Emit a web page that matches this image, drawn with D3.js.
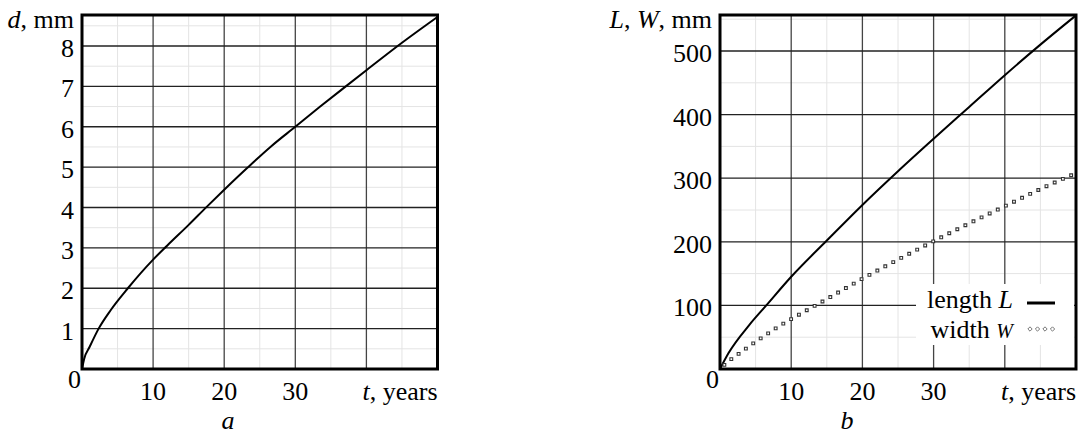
<!DOCTYPE html>
<html>
<head>
<meta charset="utf-8">
<script src="https://cdn.jsdelivr.net/npm/d3@7"></script>
<style>
  html, body { margin: 0; padding: 0; background: #fff; }
  svg { display: block; }
  text { font-family: "Liberation Serif", "Times New Roman", serif; font-size: 26px; fill: #000; }
</style>
</head>
<body>
<svg id="chart" width="1078" height="436"></svg>
<script>
// ---- data ----
// Panel a: diameter d (mm) vs time t (years)
const dTime  = [0, 0.3, 1.08, 2.34, 4, 6.45, 10, 12, 15, 17.5, 20, 23.3, 26.5, 30, 33.5, 37.1, 40, 45, 50];
const dValue = [0, 0.25, 0.55, 1.0, 1.45, 2.0, 2.71, 3.06, 3.57, 4.01, 4.44, 4.99, 5.5, 6.0, 6.5, 7.0, 7.4, 8.08, 8.72];

// Panel b: length L and width W (mm) vs time t (years)
const lTime  = [0, 1.2, 4.1, 6.5, 10, 15, 20, 25, 30, 35, 40, 45, 50];
const lValue = [0, 25, 69, 100, 145, 202, 258, 311, 362, 412, 462, 510, 556];
const wTime  = [0, 1.07, 2.15, 4.25, 6.35, 8.4, 10.55, 15, 20, 25, 30, 35, 40, 45, 50];
const wValue = [0, 11, 20, 37, 53, 68, 82, 110, 142, 172, 201, 229, 256, 283, 308];

const xTicksA = [10, 20, 30];
const yTicksA = [1, 2, 3, 4, 5, 6, 7, 8];
const xTicksB = [10, 20, 30];
const yTicksB = [100, 200, 300, 400, 500];

const svg = d3.select("#chart");

function panel(opts) {
  const g = svg.append("g");
  const x = d3.scaleLinear().domain([0, 50]).range([opts.left, opts.right]);
  const y = d3.scaleLinear().domain([0, opts.yRef]).range([opts.bottom, opts.yRefPx]);
  const yMax = y.invert(opts.top);

  // minor grid
  const minorX = d3.range(5, 50, 10);
  const minorY = d3.range(opts.minorStep, yMax, opts.majorStep);
  g.append("g").selectAll("line").data(minorX).join("line")
    .attr("x1", d => x(d)).attr("x2", d => x(d))
    .attr("y1", opts.top).attr("y2", opts.bottom)
    .attr("stroke", "#e4e4e4").attr("stroke-width", 1);
  g.append("g").selectAll("line").data(minorY).join("line")
    .attr("x1", opts.left).attr("x2", opts.right)
    .attr("y1", d => y(d)).attr("y2", d => y(d))
    .attr("stroke", "#e4e4e4").attr("stroke-width", 1);
  // major grid
  const majorX = d3.range(10, 50, 10);
  const majorY = d3.range(opts.majorStep, yMax, opts.majorStep);
  g.append("g").selectAll("line").data(majorX).join("line")
    .attr("x1", d => x(d)).attr("x2", d => x(d))
    .attr("y1", opts.top).attr("y2", opts.bottom)
    .attr("stroke", "#444").attr("stroke-width", 1.3);
  g.append("g").selectAll("line").data(majorY).join("line")
    .attr("x1", opts.left).attr("x2", opts.right)
    .attr("y1", d => y(d)).attr("y2", d => y(d))
    .attr("stroke", "#222").attr("stroke-width", 1.3);

  // y tick labels
  g.append("g").selectAll("text").data(opts.yTicks).join("text")
    .attr("x", opts.left - 8).attr("y", d => y(d) + 11)
    .attr("text-anchor", "end").text(d => d);
  // zero label
  g.append("text").attr("x", opts.left - 1).attr("y", opts.bottom + 19)
    .attr("text-anchor", "end").text("0");
  // x tick labels
  g.append("g").selectAll("text").data(opts.xTicks).join("text")
    .attr("x", d => x(d)).attr("y", opts.bottom + 31)
    .attr("text-anchor", "middle").text(d => d);
  // x axis title
  const xt = g.append("text").attr("x", opts.right).attr("y", opts.bottom + 31).attr("text-anchor", "end");
  xt.append("tspan").attr("font-style", "italic").text("t");
  xt.append("tspan").text(", years");
  // y axis title
  const yt = g.append("text").attr("x", opts.left - 8).attr("y", 28).attr("text-anchor", "end");
  opts.yTitle.forEach(p => yt.append("tspan").attr("font-style", p.i ? "italic" : null).text(p.t));
  // panel letter
  g.append("text").attr("x", opts.letterX).attr("y", 429).attr("text-anchor", "middle")
    .attr("font-style", "italic").text(opts.letter);

  return { g, x, y };
}

// ---------- Panel a ----------
const A = panel({
  left: 82, right: 437.5, top: 15, bottom: 369,
  yRef: 8, yRefPx: 46, majorStep: 1, minorStep: 0.5,
  yTicks: yTicksA, xTicks: xTicksA,
  yTitle: [{t: "d", i: true}, {t: ", mm"}],
  letter: "a", letterX: 228
});
const lineA = d3.line().x((d, i) => A.x(dTime[i])).y(d => A.y(d)).curve(d3.curveMonotoneX);
A.g.append("path").datum(dValue).attr("d", lineA)
  .attr("fill", "none").attr("stroke", "#000").attr("stroke-width", 2);
A.g.append("rect").attr("x", 82).attr("y", 15).attr("width", 437.5 - 82).attr("height", 369 - 15)
  .attr("fill", "none").attr("stroke", "#000").attr("stroke-width", 3);

// ---------- Panel b ----------
const B = panel({
  left: 720, right: 1076, top: 15, bottom: 369,
  yRef: 500, yRefPx: 51, majorStep: 100, minorStep: 50,
  yTicks: yTicksB, xTicks: xTicksB,
  yTitle: [{t: "L", i: true}, {t: ", "}, {t: "W", i: true}, {t: ", mm"}],
  letter: "b", letterX: 847
});

// legend background (covers grid)
const legendG = B.g.append("g");
legendG.append("rect").attr("x", 916).attr("y", 284).attr("width", 158).attr("height", 61)
  .attr("fill", "#fff");

const lineL = d3.line().x((d, i) => B.x(lTime[i])).y(d => B.y(d)).curve(d3.curveMonotoneX);
B.g.append("path").datum(lValue).attr("d", lineL)
  .attr("fill", "none").attr("stroke", "#000").attr("stroke-width", 2);

const lineW = d3.line().x((d, i) => B.x(wTime[i])).y(d => B.y(d)).curve(d3.curveMonotoneX);
const wPath = B.g.append("path").datum(wValue).attr("d", lineW)
  .attr("fill", "none").attr("stroke", "none");
const total = wPath.node().getTotalLength();
const spacing = 9;
const wPts = d3.range(6, total, spacing).map(l => wPath.node().getPointAtLength(l));
const diamond = d3.symbol().type(d3.symbolSquare2).size(10);
B.g.append("g").selectAll("path").data(wPts).join("path")
  .attr("d", diamond)
  .attr("transform", p => `translate(${p.x},${p.y})`)
  .attr("fill", "#fff").attr("stroke", "#333").attr("stroke-width", 1.1);

// legend content
const l1 = legendG.append("text").attr("x", 1013).attr("y", 308).attr("text-anchor", "end");
l1.append("tspan").text("length ");
l1.append("tspan").attr("font-style", "italic").text("L");
const l2 = legendG.append("text").attr("x", 1013).attr("y", 338).attr("text-anchor", "end");
l2.append("tspan").text("width ");
l2.append("tspan").attr("font-style", "italic").attr("font-size", 20).text("W");
legendG.append("line").attr("x1", 1027).attr("x2", 1055).attr("y1", 303).attr("y2", 303)
  .attr("stroke", "#000").attr("stroke-width", 3);
legendG.append("g").selectAll("path").data(d3.range(4)).join("path")
  .attr("d", d3.symbol().type(d3.symbolDiamond2).size(12))
  .attr("transform", i => `translate(${1030 + i * 7.5},329)`)
  .attr("fill", "#fff").attr("stroke", "#777").attr("stroke-width", 1);

B.g.append("rect").attr("x", 720).attr("y", 15).attr("width", 1076 - 720).attr("height", 369 - 15)
  .attr("fill", "none").attr("stroke", "#000").attr("stroke-width", 3);
</script>
</body>
</html>
